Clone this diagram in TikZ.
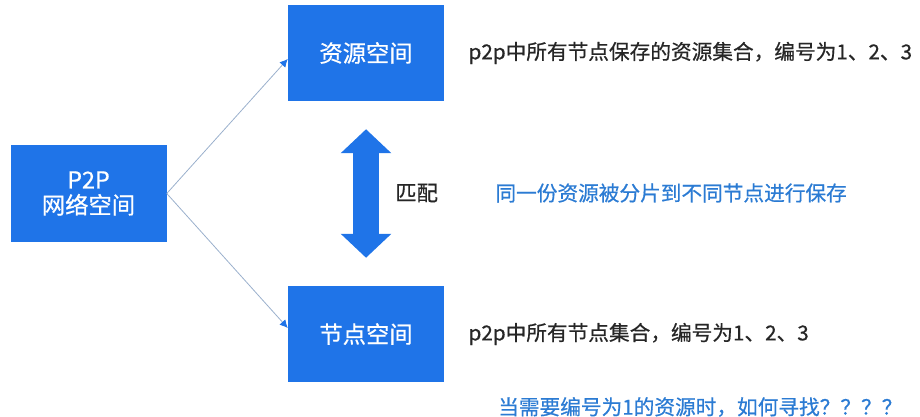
\documentclass[tikz,border=0pt]{standalone}
\usepackage{fontspec}
\newfontfamily\cjk[FakeBold=0.6]{Noto Sans CJK SC}
\usepackage{xcolor}
\usetikzlibrary{positioning, arrows.meta}
\definecolor{boxblue}{HTML}{1F74E8}
\definecolor{noteblue}{HTML}{2B7BD3}
\definecolor{linkgray}{HTML}{9AB0CC}
\definecolor{txtgray}{HTML}{262626}

\begin{document}
\begin{tikzpicture}[
            x=0.75pt, y=-0.75pt,
            node distance=33pt and 90.75pt, % 方框间距
            space/.style={rectangle, fill=boxblue, minimum width=117pt, minimum height=72pt, inner sep=0pt, font=\cjk\fontsize{17.5}{22}\selectfont, text=white, align=center},
            desc/.style={anchor=west, inner sep=0pt, font=\cjk\fontsize{15.5}{18}\selectfont, text=txtgray},
            note/.style={desc, text=noteblue},
            link/.style={draw=linkgray, line width=0.6pt, -{Latex[color=boxblue, length=6pt, width=6pt]}},
            swap/.style={draw=boxblue, line width=19.5pt, {Triangle[length=18pt, width=37pt]}-{Triangle[length=18pt, width=37pt]}, shorten <=21pt, shorten >=21pt}
        ]
            \useasboundingbox (0,0) rectangle (920,417);
            \node[space] (p2p) at (88.5,193.5) {P2P\\[-3pt]网络空间};
            \node[space, above right=of p2p] (res) {资源空间};
            \node[space, below right=of p2p] (nod) {节点空间};

            \node[desc, right=18pt of res] (resdesc) {p2p中所有节点保存的资源集合，编号为1、2、3};
            \node[desc, right=18pt of nod] (noddesc) {p2p中所有节点集合，编号为1、2、3};
            \node[desc, font=\cjk\fontsize{16}{18}\selectfont] (match) at (395,193) {匹配};
            \node[note, right=42.75pt of match] (shard) {同一份资源被分片到不同节点进行保存};
            \node[note] (find) at (498,407) {当需要编号为1的资源时，如何寻找？？？？};

            \draw[link] (p2p.east) -- ([yshift=-4.5pt]res.west);
            \draw[link] (p2p.east) -- ([yshift=4.5pt]nod.west);
            \draw[swap] (res) -- (nod);
        \end{tikzpicture}
\end{document}
